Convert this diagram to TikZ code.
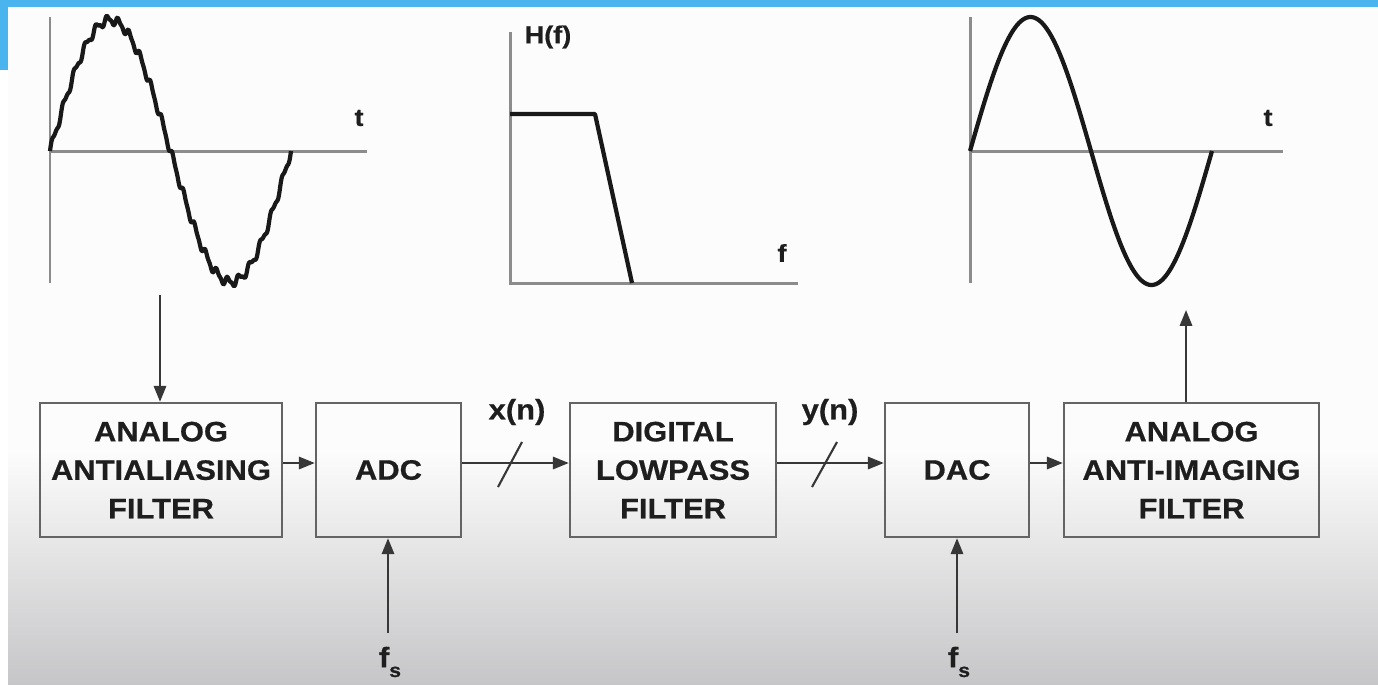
\documentclass[tikz,border=0pt]{standalone}
\usepackage{fontspec}
\setmainfont{Liberation Sans}[FakeStretch=1.1, BoldFeatures={FakeBold=0.6}]
\usetikzlibrary{arrows.meta}
\definecolor{bluebar}{RGB}{74,180,238}
\definecolor{boxline}{RGB}{100,100,100}
\definecolor{txt}{RGB}{30,30,30}
\definecolor{axisgray}{RGB}{140,140,140}
\definecolor{arrgray}{RGB}{55,55,55}
\definecolor{bggray}{RGB}{198,198,200}
\begin{document}
\begin{tikzpicture}[x=0.02cm,y=-0.02cm,
  blk/.style={draw=boxline, line width=1.4pt, align=center, text=txt,
    font=\fontsize{16}{21.9}\selectfont\bfseries, inner sep=0pt},
  arr/.style={draw=arrgray, line width=1.2pt, -{Triangle[length=9pt,width=7pt]}},
  slashline/.style={draw=arrgray, line width=1.2pt},
  axisline/.style={draw=axisgray, line width=1.7pt},
  sig/.style={draw=black!90, line width=2.4pt, line join=round},
  lbl/.style={text=txt, font=\fontsize{16}{19}\selectfont\bfseries, inner sep=0pt},
  smalllbl/.style={text=txt, font=\fontsize{14}{17}\selectfont\bfseries, inner sep=0pt}]
\useasboundingbox (0,0) rectangle (1378,684);
% background
\fill[white] (0,0) rectangle (1378,684);
\fill[white!98!gray] (8,7) rectangle (1378,450);
\shade[top color=white!98!gray, bottom color=bggray] (8,449) rectangle (1378,684);
\fill[bluebar] (0,0) rectangle (1378,7);
\fill[bluebar] (0,0) rectangle (8,70);

% left noisy sine
\draw[axisline] (50,17) -- (50,283);
\draw[axisline] (50,151) -- (367,151);
\node[smalllbl] (tl) at (359,118) {t};
\draw[sig] plot[domain=0:360, samples=361, variable=\t]
  ({50+0.6694*\t},{151-131*sin(\t)-4*sin(22*\t)-1.5*sin(44*\t)});

% H(f)
\draw[axisline] (510,32) -- (510,283) -- (798,283);
\node[smalllbl] (hf) at (548,37) {H(f)};
\node[smalllbl] (fl) at (782,253) {f};
\draw[sig] (510,114) -- (595,114) -- (632,283);

% right sine
\draw[axisline] (970,17) -- (970,283);
\draw[axisline] (970,151) -- (1283,151);
\node[smalllbl] (tr) at (1268,118) {t};
\draw[sig] plot[domain=0:360, samples=120, variable=\t]
  ({970+0.6722*\t},{151-134*sin(\t)});

% blocks
\node[blk, minimum width=242*0.02cm, minimum height=134*0.02cm] (b1) at (161,470)
  {ANALOG\\ANTIALIASING\\FILTER};
\node[blk, minimum width=145*0.02cm, minimum height=134*0.02cm] (adc) at (388.5,470) {ADC};
\node[blk, minimum width=206*0.02cm, minimum height=134*0.02cm] (dlp) at (673,470)
  {DIGITAL\\LOWPASS\\FILTER};
\node[blk, minimum width=144*0.02cm, minimum height=134*0.02cm] (dac) at (957,470) {DAC};
\node[blk, minimum width=255*0.02cm, minimum height=134*0.02cm] (aai) at (1191.5,470)
  {ANALOG\\ANTI-IMAGING\\FILTER};

% connectors
\coordinate (in1) at (160,295);
\draw[arr] (in1) -- (in1 |- b1.north);
\draw[arr] ([yshift=0.14cm]b1.east) -- ([yshift=0.14cm]adc.west);
\draw[arr] ([yshift=0.14cm]adc.east) -- ([yshift=0.14cm]dlp.west);
\draw[arr] ([yshift=0.14cm]dlp.east) -- ([yshift=0.14cm]dac.west);
\draw[arr] ([yshift=0.14cm]dac.east) -- ([yshift=0.14cm]aai.west);
\coordinate (out1) at (1186,310);
\draw[arr] (out1 |- aai.north) -- (out1);

% bus slashes and labels
\draw[slashline] (498,487) -- (522,442);
\draw[slashline] (812,487) -- (837,442);
\node[lbl] (xn) at (517,412) {x(n)};
\node[lbl] (yn) at (830,412) {y(n)};

% sampling clocks
\coordinate (fsa) at (388,633);
\coordinate (fsb) at (957,633);
\draw[arr] (fsa) -- (fsa |- adc.south);
\draw[arr] (fsb) -- (fsb |- dac.south);
\node[lbl] (fs1) at (390,662) {f\raisebox{-0.35em}{\fontsize{11}{12}\selectfont s}};
\node[lbl] (fs2) at (959,662) {f\raisebox{-0.35em}{\fontsize{11}{12}\selectfont s}};
\end{tikzpicture}
\end{document}
